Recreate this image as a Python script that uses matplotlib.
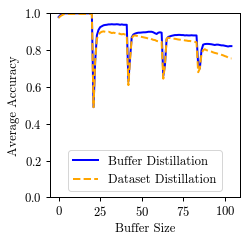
import matplotlib
matplotlib.use("Agg")
import matplotlib.pyplot as plt
import numpy as np

plt.rcParams['font.family'] = 'serif'
plt.rcParams['font.serif'] = ['cmr10', 'DejaVu Serif']
plt.rcParams['axes.formatter.use_mathtext'] = True
plt.rcParams['font.size'] = 12.6
plt.rcParams['axes.linewidth'] = 1.0
plt.rcParams['xtick.major.size'] = 4.4
plt.rcParams['ytick.major.size'] = 4.4
plt.rcParams['xtick.major.width'] = 1.0
plt.rcParams['ytick.major.width'] = 1.0

buffer_size = list(range(0, 105))

buffer_distillation = [
    0.98, 0.99, 0.995, 1.0, 1.0, 1.0, 1.0, 1.0, 1.0, 1.0, 1.0, 1.0, 1.0, 1.0, 1.0, 1.0, 1.0, 1.0, 1.0, 1.0, 1.0,
    0.49, 0.74, 0.88, 0.91, 0.925, 0.93, 0.935, 0.937, 0.938, 0.94, 0.94, 0.941, 0.94, 0.94, 0.941, 0.94, 0.938, 0.94, 0.938, 0.938, 0.938,
    0.63, 0.76, 0.87, 0.885, 0.89, 0.893, 0.895, 0.895, 0.896, 0.897, 0.897, 0.898, 0.9, 0.9, 0.9, 0.897, 0.892, 0.888, 0.895, 0.897, 0.895,
    0.66, 0.72, 0.86, 0.872, 0.875, 0.878, 0.88, 0.882, 0.882, 0.883, 0.883, 0.882, 0.882, 0.88, 0.881, 0.88, 0.88, 0.881, 0.88, 0.88, 0.88,
    0.72, 0.70, 0.80, 0.83, 0.833, 0.834, 0.834, 0.833, 0.832, 0.83, 0.828, 0.83, 0.83, 0.828, 0.826, 0.826, 0.824, 0.822, 0.82, 0.822, 0.822,
]

dataset_distillation = [
    0.975, 0.985, 0.99, 0.995, 0.997, 0.997, 0.997, 0.997, 0.997, 0.997, 0.997, 0.997, 0.997, 0.997, 0.997, 0.997, 0.997, 0.997, 0.997, 0.997, 0.997,
    0.49, 0.74, 0.86, 0.885, 0.895, 0.9, 0.902, 0.9, 0.898, 0.9, 0.897, 0.893, 0.895, 0.893, 0.89, 0.892, 0.888, 0.886, 0.888, 0.885, 0.884,
    0.61, 0.75, 0.865, 0.878, 0.88, 0.878, 0.875, 0.874, 0.872, 0.87, 0.868, 0.866, 0.863, 0.865, 0.86, 0.856, 0.855, 0.85, 0.848, 0.846, 0.845,
    0.645, 0.72, 0.862, 0.868, 0.866, 0.865, 0.862, 0.862, 0.86, 0.858, 0.857, 0.855, 0.856, 0.853, 0.852, 0.85, 0.85, 0.848, 0.847, 0.845, 0.843,
    0.68, 0.70, 0.78, 0.80, 0.805, 0.8, 0.797, 0.795, 0.792, 0.788, 0.785, 0.783, 0.78, 0.778, 0.775, 0.772, 0.768, 0.765, 0.76, 0.755, 0.755,
]

fig = plt.figure(figsize=(249/72, 243/72), dpi=72)
ax = fig.add_axes([0.2008, 0.188, 0.7632, 0.757])
ax.plot(buffer_size, buffer_distillation, color='blue', linewidth=2, label='Buffer Distillation')
ax.plot(buffer_size, dataset_distillation, color='orange', linestyle='--', linewidth=2, label='Dataset Distillation')
ax.set_ylim(0.0, 1.0)
ax.set_xticks([0, 25, 50, 75, 100])
ax.set_yticks([0.0, 0.2, 0.4, 0.6, 0.8, 1.0])
ax.set_xlabel('Buffer Size')
ax.set_ylabel('Average Accuracy')
ax.legend(loc='lower center')
fig.savefig('out.png', dpi=72)
